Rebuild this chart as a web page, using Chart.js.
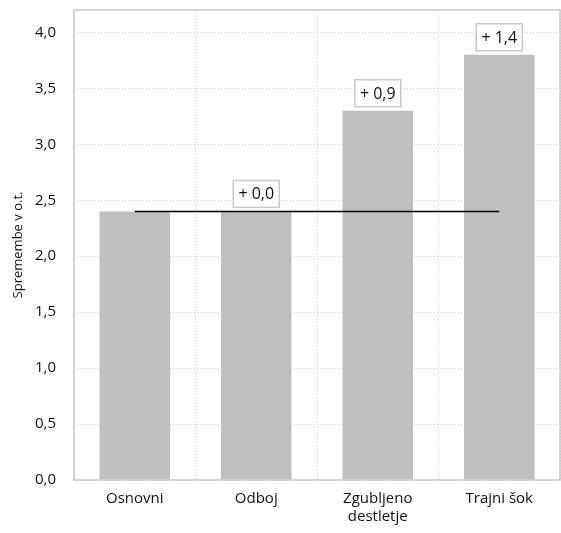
<!DOCTYPE html>
<html>
<head>
<meta charset="utf-8">
<script src="https://cdn.jsdelivr.net/npm/chart.js@4"></script>
<style>
  html, body { margin: 0; padding: 0; background: #fff; }
  #wrap { width: 561px; height: 533px; }
</style>
</head>
<body>
<div id="wrap"><canvas id="bars"></canvas></div>
<script>
// Chart data
const categories = ['Osnovni', 'Odboj', ['Zgubljeno', 'destletje'], 'Trajni šok'];
const values = [2.4, 2.4, 3.3, 3.8];
const baseline = [2.4, 2.4, 2.4, 2.4];
const changeLabels = ['', '+ 0,0', '+ 0,9', '+ 1,4'];
const yTitle = 'Spremembe v o.t.';

const FONT = "'Open Sans', 'Noto Sans', sans-serif";

// Frame around the plot area
const frame = {
    id: 'frame',
    afterDraw(chart) {
        const a = chart.chartArea, c = chart.ctx;
        c.save();
        c.strokeStyle = '#c8c8c8';
        c.lineWidth = 1.5;
        c.strokeRect(a.left, a.top, a.right - a.left, a.bottom - a.top);
        c.restore();
    }
};

// Boxed change labels above the bars
const boxLabels = {
    id: 'boxLabels',
    afterDatasetsDraw(chart) {
        const c = chart.ctx;
        const meta = chart.getDatasetMeta(1);
        c.save();
        c.font = '16px ' + FONT;
        c.textAlign = 'center';
        c.textBaseline = 'middle';
        meta.data.forEach(function(bar, i) {
            const txt = changeLabels[i];
            if (!txt) return;
            const w = 46, h = 27;
            const x = bar.x - w / 2, y = bar.y - 4 - h;
            c.fillStyle = '#fff';
            c.fillRect(x, y, w, h);
            c.strokeStyle = '#c8c8c8';
            c.lineWidth = 1.5;
            c.strokeRect(x, y, w, h);
            c.fillStyle = '#111';
            c.fillText(txt, bar.x, y + h / 2 + 1);
        });
        c.restore();
    }
};

new Chart(document.getElementById('bars'), {
    data: {
        labels: categories,
        datasets: [{
            type: 'line',
            data: baseline,
            borderColor: '#000',
            borderWidth: 1.5,
            pointRadius: 0,
            order: 0
        }, {
            type: 'bar',
            data: values,
            backgroundColor: '#bfbfbf',
            categoryPercentage: 0.58,
            barPercentage: 1,
            order: 1
        }]
    },
    options: {
        responsive: true,
        maintainAspectRatio: false,
        animation: false,
        layout: { padding: { top: 10, right: 1, left: 0, bottom: 0 } },
        plugins: {
            legend: { display: false },
            tooltip: { enabled: false }
        },
        scales: {
            x: {
                offset: true,
                grid: { offset: true, color: '#d0d0d0', lineWidth: 1, tickLength: 0 },
                border: { display: false, dash: [1, 2] },
                ticks: { color: '#111', font: { family: FONT, size: 15 }, padding: 10 },
                afterFit(scale) {
                    scale.height = 53;
                    scale.paddingLeft = 0;
                    scale.paddingRight = 0;
                }
            },
            y: {
                min: 0,
                max: 4.2,
                grid: { color: '#d0d0d0', lineWidth: 1, tickLength: 0 },
                border: { display: false, dash: [1, 2] },
                ticks: {
                    stepSize: 0.5,
                    color: '#111',
                    padding: 18,
                    font: { family: FONT, size: 15 },
                    callback: v => v.toFixed(1).replace('.', ',')
                },
                afterBuildTicks(scale) {
                    scale.ticks = scale.ticks.filter(t => Math.abs(t.value * 2 - Math.round(t.value * 2)) < 1e-6);
                },
                title: {
                    display: true,
                    text: yTitle,
                    color: '#111',
                    font: { family: FONT, size: 13 },
                    padding: { top: 10, bottom: 4 }
                },
                afterFit(scale) {
                    scale.width = 74;
                    scale.paddingTop = 0;
                    scale.paddingBottom = 0;
                }
            }
        }
    },
    plugins: [frame, boxLabels]
});
</script>
</body>
</html>
